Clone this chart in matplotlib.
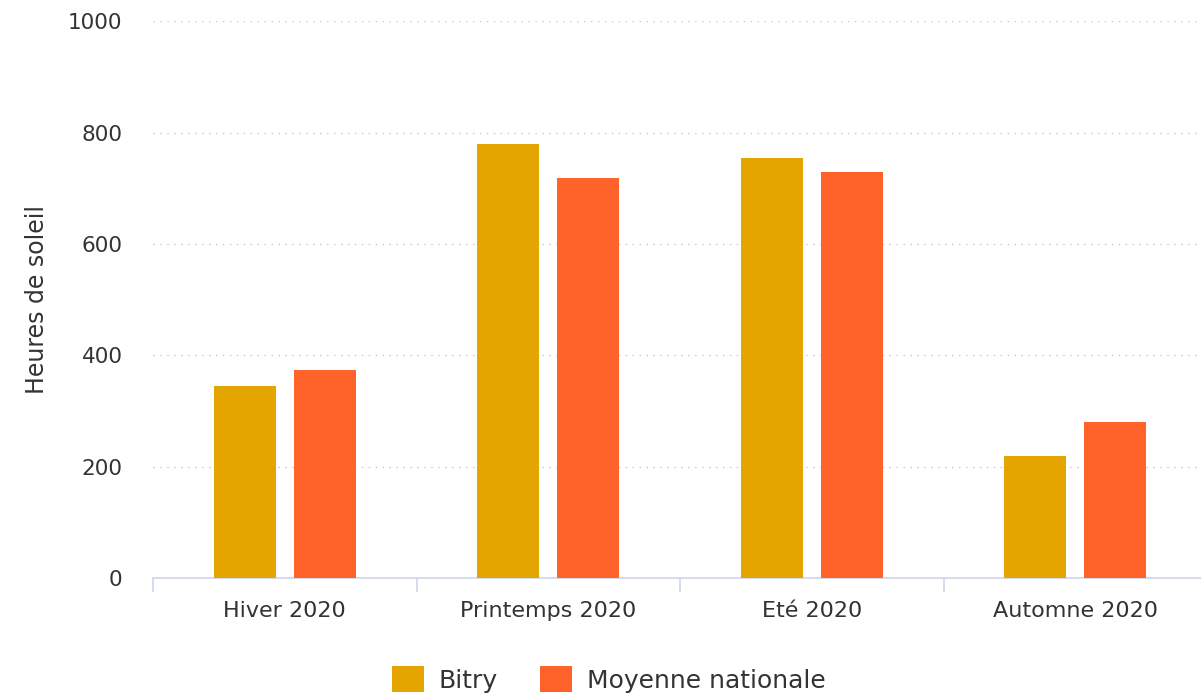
import matplotlib.pyplot as plt
import numpy as np

saisons = ["Hiver 2020", "Printemps 2020", "Eté 2020", "Automne 2020"]
bitry = [346, 780, 755, 220]
moyenne = [374, 719, 730, 281]

plt.rcParams["font.family"] = ["DejaVu Sans"]
text_color = "#333333"

fig = plt.figure(figsize=(12.01, 6.97), dpi=100)
ax = fig.add_axes([0.1274, 0.1703, 1.005 - 0.1274, 0.9695 - 0.1703])

x = np.arange(len(saisons))
w = 0.236
ax.bar(x - 0.152, bitry, w, color="#E5A500", label="Bitry", zorder=3)
ax.bar(x + 0.152, moyenne, w, color="#FF6329", label="Moyenne nationale", zorder=3)

ax.set_xlim(-0.5, len(saisons) - 0.5)
ax.set_ylim(0, 1000)
ax.set_yticks(range(0, 1001, 200))
ax.set_xticks(x)
ax.set_xticklabels(saisons, fontsize=16, color=text_color)
ax.set_xticks(np.arange(-0.5, len(saisons)), minor=True)
ax.tick_params(axis="x", which="major", length=0, pad=16)
ax.tick_params(axis="x", which="minor", length=10, color="#ccd6eb", width=1.2)
ax.tick_params(axis="y", length=0, labelsize=15.5, labelcolor=text_color, pad=22)

ax.grid(axis="y", linestyle=(0, (1, 4)), color="#c8c8c8", linewidth=1, zorder=0)
for s in ["top", "right", "left"]:
    ax.spines[s].set_visible(False)
ax.spines["bottom"].set_color("#ccd6eb")
ax.spines["bottom"].set_linewidth(1.2)

ax.set_ylabel("Heures de soleil", fontsize=17, color=text_color, labelpad=14)

fig.legend(loc="lower center", bbox_to_anchor=(0.507, -0.026), ncol=2, frameon=False,
           fontsize=18, handlelength=1.25, handleheight=1.25, columnspacing=1.7,
           handletextpad=0.6, labelcolor=text_color)

fig.savefig("out.png", dpi=100)
